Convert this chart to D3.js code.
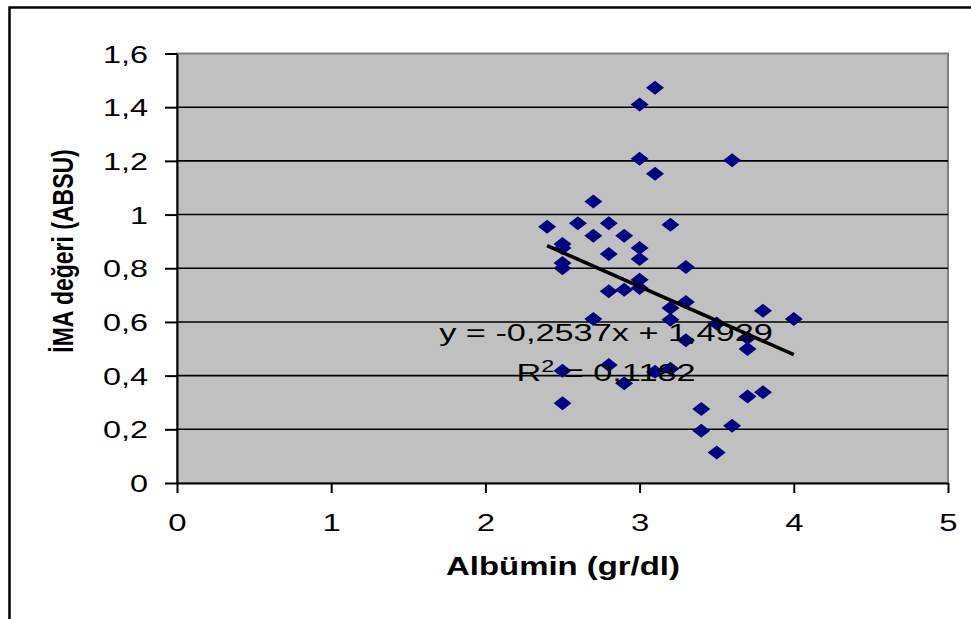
<!DOCTYPE html>
<html>
<head>
<meta charset="utf-8">
<script src="https://cdn.jsdelivr.net/npm/d3@7"></script>
<style>
  html, body { margin: 0; padding: 0; background: #fff; }
  svg { display: block; }
  text { font-family: "Liberation Sans", Arial, sans-serif; fill: #000; }
</style>
</head>
<body>
<svg id="chart" width="971" height="619"></svg>
<script>
// ---- data ----
const albumin = [2.4, 2.5, 2.5, 2.5, 2.5, 2.6, 2.7, 2.7, 2.8, 2.8, 2.8, 2.7, 2.9, 2.9,
  3.0, 3.1, 3.0, 3.1, 3.0, 3.0, 3.0, 3.0, 3.2, 3.3, 3.2, 3.2, 3.3, 3.3, 3.6, 3.8, 4.0,
  3.5, 3.7, 3.7, 2.5, 2.5, 2.8, 2.9, 3.1, 3.2, 3.4, 3.4, 3.6, 3.5, 3.7, 3.8];
const imaValues = [0.955, 0.89, 0.875, 0.82, 0.80, 0.968, 1.049, 0.921, 0.968, 0.853, 0.714, 0.611, 0.921, 0.72,
  1.41, 1.472, 1.208, 1.152, 0.875, 0.834, 0.757, 0.726, 0.962, 0.805, 0.652, 0.608, 0.674, 0.532, 1.202, 0.642, 0.611,
  0.594, 0.54, 0.499, 0.418, 0.297, 0.44, 0.372, 0.414, 0.426, 0.276, 0.195, 0.213, 0.114, 0.322, 0.338];
const xTicks = [0, 1, 2, 3, 4, 5];
const xTickLabels = ["0", "1", "2", "3", "4", "5"];
const yTicks = [0, 0.2, 0.4, 0.6, 0.8, 1.0, 1.2, 1.4, 1.6];
const yTickLabels = ["0", "0,2", "0,4", "0,6", "0,8", "1", "1,2", "1,4", "1,6"];
const trendSlope = -0.2537;
const trendIntercept = 1.4929;
const equationText = "y = -0,2537x + 1,4929";
const r2Text = "0,1182";
const xTitle = "Albümin (gr/dl)";
const yTitle = "İMA değeri (ABSU)";

// ---- layout ----
const svg = d3.select("#chart");
const L = 177, R = 948, T = 53.5, B = 483;
const x = d3.scaleLinear().domain([0, 5]).range([L, R]);
const y = d3.scaleLinear().domain([0, 1.6]).range([B, T]);

// outer chart border
svg.append("rect").attr("x", 9.5).attr("y", 7.5).attr("width", 1000).attr("height", 700)
  .attr("fill", "#fff").attr("stroke", "#000").attr("stroke-width", 2.5);

// plot area
svg.append("rect").attr("x", L).attr("y", T).attr("width", R - L).attr("height", B - T)
  .attr("fill", "#C0C0C0").attr("stroke", "#808080").attr("stroke-width", 2);

// gridlines
svg.append("g").selectAll("line").data(yTicks.filter(d => d > 0 && d < 1.6)).join("line")
  .attr("x1", L).attr("x2", R).attr("y1", d => y(d)).attr("y2", d => y(d))
  .attr("stroke", "#000").attr("stroke-width", 1.6);

// axes
const yAxis = svg.append("g").attr("transform", `translate(${L},0)`)
  .call(d3.axisLeft(y).tickValues(yTicks).tickFormat((d, i) => yTickLabels[i]).tickSize(12).tickSizeOuter(0));
const xAxis = svg.append("g").attr("transform", `translate(0,${B})`)
  .call(d3.axisBottom(x).tickValues(xTicks).tickFormat((d, i) => xTickLabels[i]).tickSize(10).tickSizeOuter(0));
[yAxis, xAxis].forEach(g => {
  g.select(".domain").attr("stroke", "#000").attr("stroke-width", 2);
  g.selectAll(".tick line").attr("stroke", "#000").attr("stroke-width", 2);
  g.selectAll("text").attr("font-family", "'Liberation Sans', Arial, sans-serif")
    .attr("font-size", 23.5).attr("fill", "#000");
});
yAxis.selectAll("text").attr("x", 0).attr("dy", null).attr("y", 8.5)
  .attr("transform", "translate(-29,0) scale(1.38,1)");
xAxis.selectAll("text").attr("dy", null).attr("y", 48).attr("transform", "scale(1.4,1)");

// points (diamonds)
const diamond = "M0,-7 L9,0 L0,7 L-9,0 Z";
svg.append("g").selectAll("path").data(albumin.map((v, i) => [v, imaValues[i]])).join("path")
  .attr("d", diamond).attr("transform", d => `translate(${x(d[0])},${y(d[1])})`)
  .attr("fill", "#000080");

// trendline
const xMin = d3.min(albumin), xMax = d3.max(albumin);
svg.append("line")
  .attr("x1", x(xMin)).attr("y1", y(trendSlope * xMin + trendIntercept))
  .attr("x2", x(xMax)).attr("y2", y(trendSlope * xMax + trendIntercept))
  .attr("stroke", "#000").attr("stroke-width", 3.6);

// equation labels
const eq = svg.append("g").attr("transform", "translate(606,0) scale(1.46,1)");
eq.append("text").attr("x", 0).attr("y", 341).attr("text-anchor", "middle")
  .attr("font-size", 23.5).text(equationText);
const r2 = eq.append("text").attr("x", 0).attr("y", 381.5).attr("text-anchor", "middle").attr("font-size", 23.5);
r2.append("tspan").text("R");
r2.append("tspan").attr("font-size", 16).attr("dy", -9).text("2");
r2.append("tspan").attr("dy", 9).text(" = " + r2Text);

// axis titles
svg.append("text").attr("transform", "translate(563,575) scale(1.29,1)")
  .attr("text-anchor", "middle").attr("font-size", 25.5).attr("font-weight", "bold").text(xTitle);
svg.append("text").attr("transform", "translate(73,251) scale(1.3,1) rotate(-90)")
  .attr("text-anchor", "middle").attr("font-size", 23).attr("font-weight", "bold").text(yTitle);
</script>
</body>
</html>
